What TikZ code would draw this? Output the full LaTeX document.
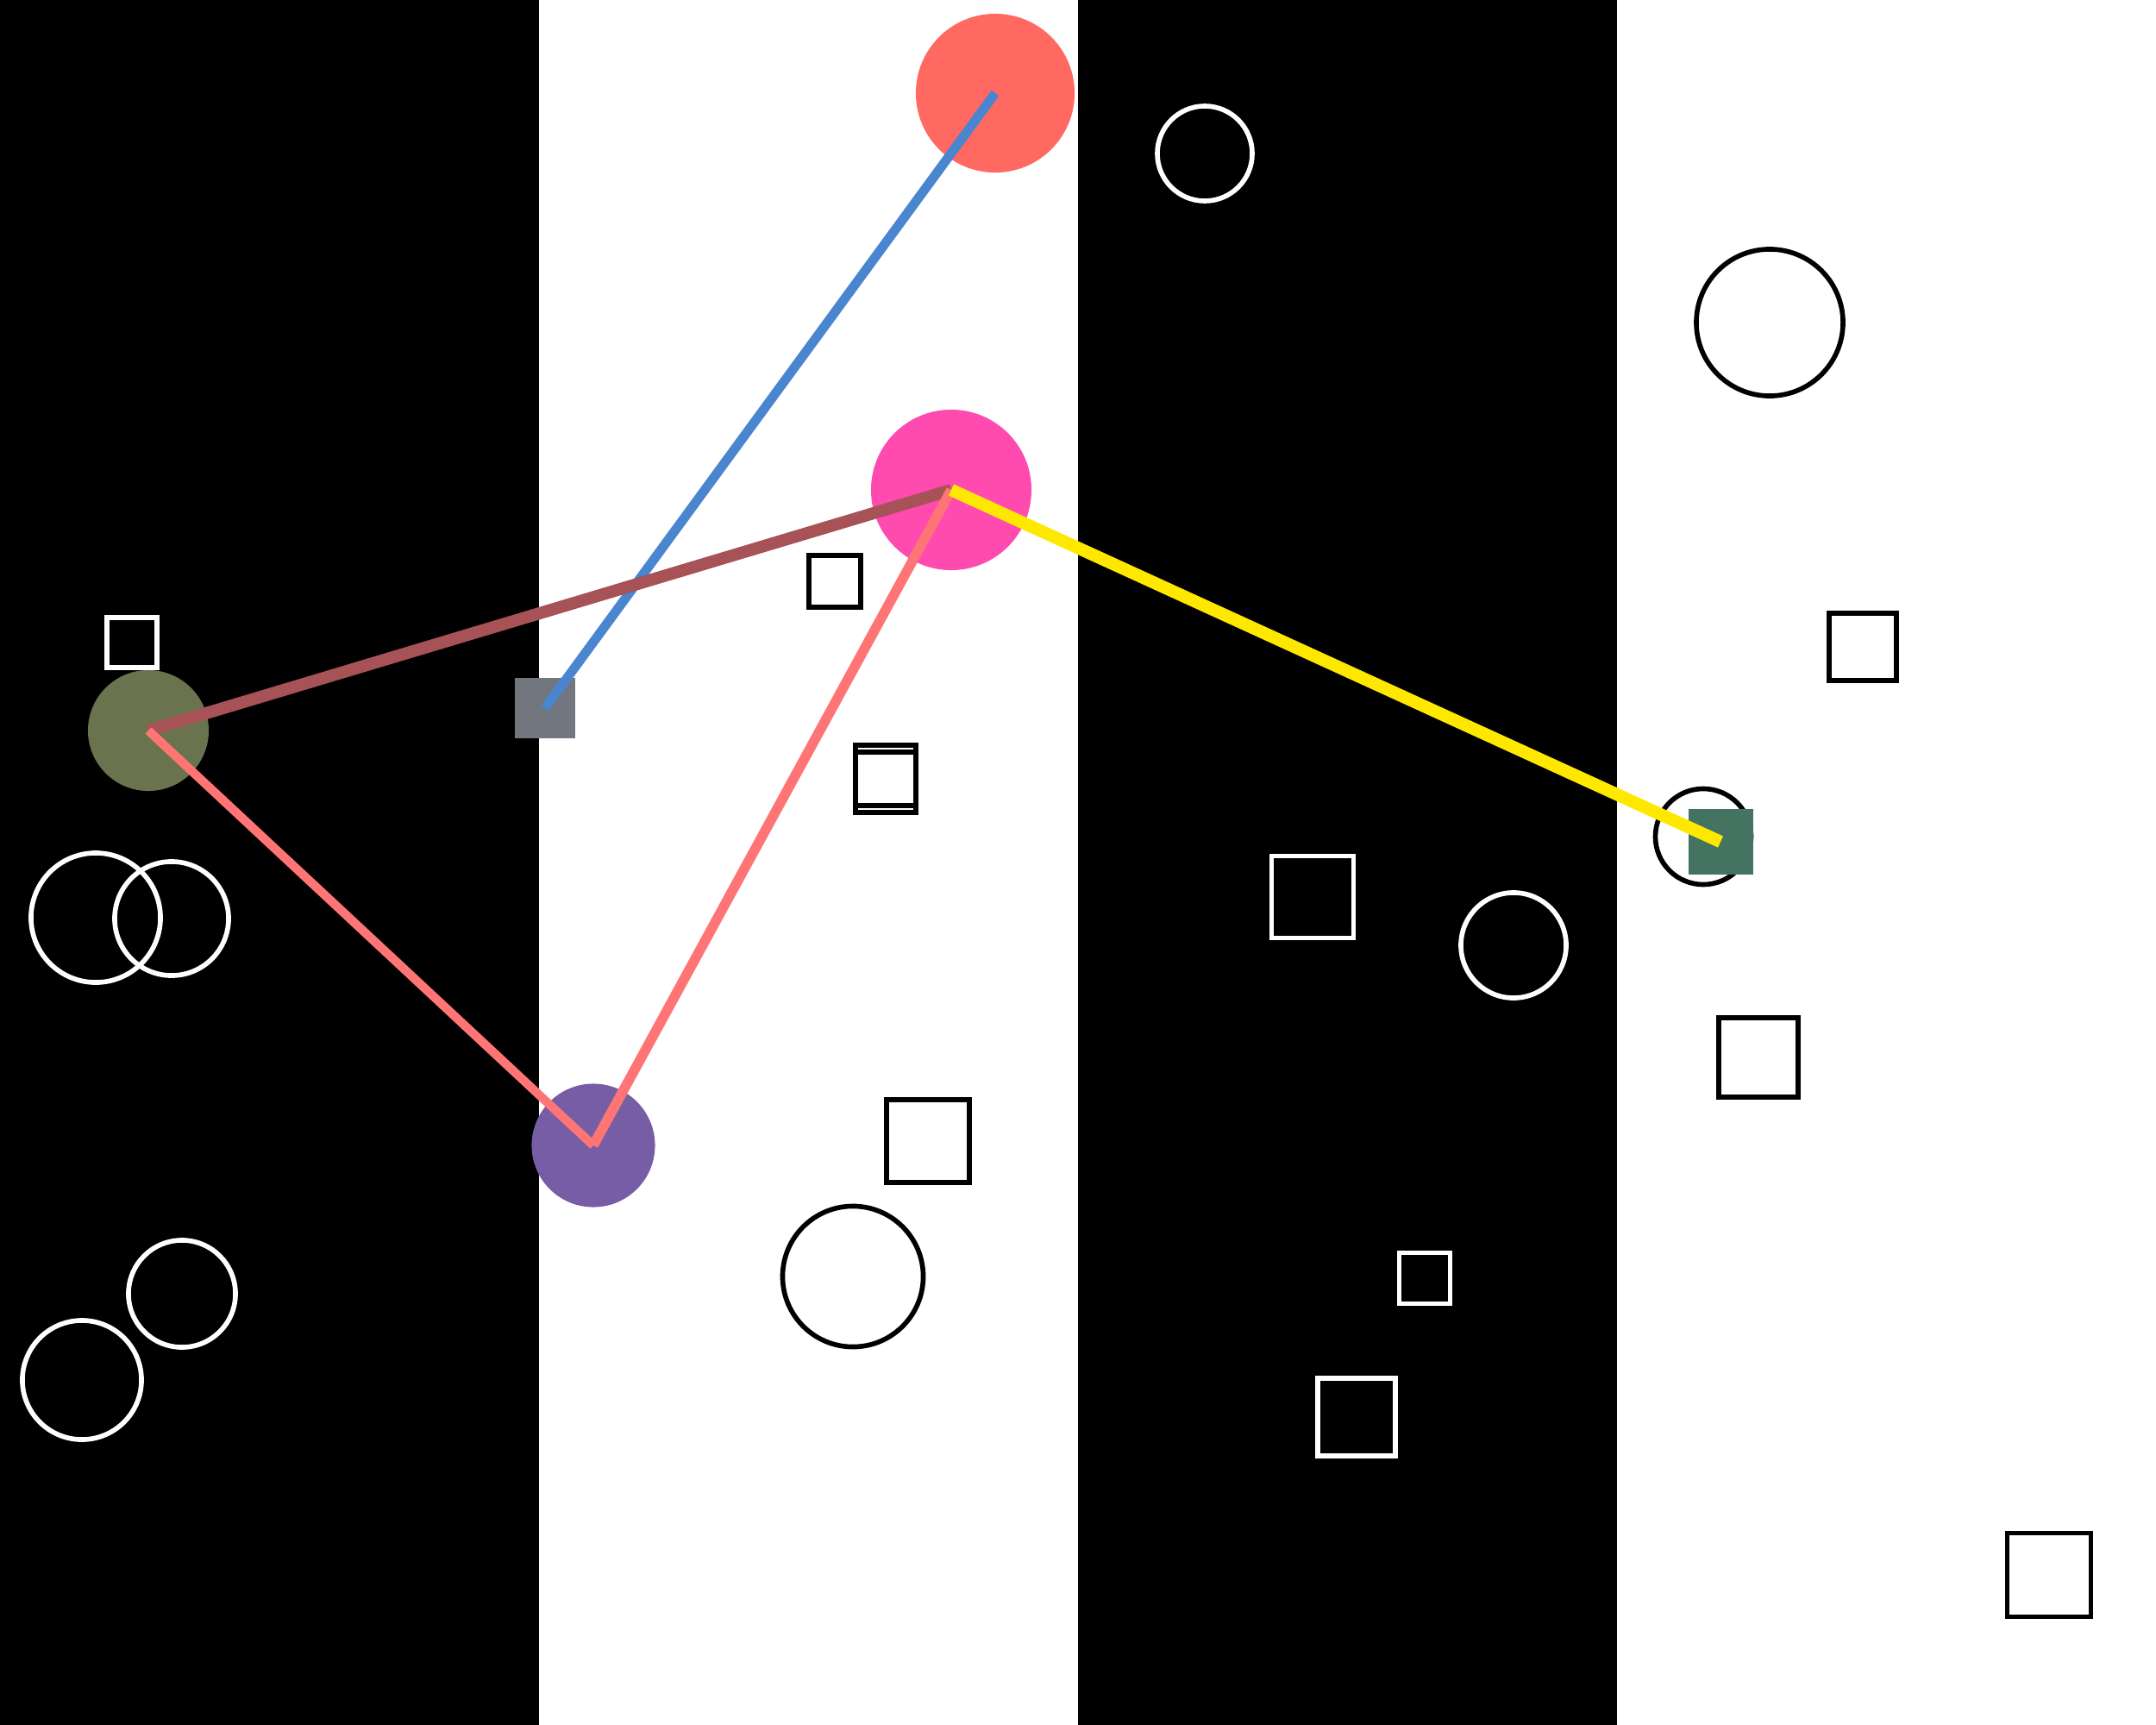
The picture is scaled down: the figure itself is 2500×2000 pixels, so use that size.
\documentclass[tikz,border=0pt]{standalone}
\definecolor{nodeCoral}{HTML}{FF6961}
\definecolor{nodePink}{HTML}{FF4AB0}
\definecolor{nodeOlive}{HTML}{69734D}
\definecolor{nodePurple}{HTML}{775DA6}
\definecolor{nodeGray}{HTML}{71767F}
\definecolor{nodeGreen}{HTML}{447361}
\definecolor{linkBlue}{HTML}{4A86CF}
\definecolor{linkBrown}{HTML}{A65257}
\definecolor{linkSalmon}{HTML}{FF7575}
\definecolor{linkYellow}{HTML}{FFE800}

\begin{document}
\begin{tikzpicture}[x=0.01cm, y=-0.01cm,
  every node/.style={inner sep=0pt, outer sep=0pt},
  ring/.style={circle, draw=#1, line width=1.6pt},
  box/.style={rectangle, draw=#1, line width=1.6pt},
  dot/.style={circle, fill=#1},
  tile/.style={rectangle, fill=#1},
  link/.style={line width=#1, line cap=butt}]
  \useasboundingbox (0,0) rectangle (2500,2000);
  \fill[white] (0,0) rectangle (2500,2000);
  \fill[black] (0,0) rectangle (625,2000);
  \fill[black] (1250,0) rectangle (1875,2000);

  \node[box=white, minimum size=0.58cm] (ls1) at (153,745) {};
  \node[ring=white, minimum size=1.50cm] (lc1) at (111,1064) {};
  \node[ring=white, minimum size=1.32cm] (lc2) at (199,1065) {};
  \node[ring=white, minimum size=1.24cm] (lc3) at (211,1500) {};
  \node[ring=white, minimum size=1.38cm] (lc4) at (95,1600) {};

  \node[box=black, minimum size=0.60cm] (ms1) at (968,674) {};
  \node[box=black, minimum size=0.70cm] (ms2) at (1027,899) {};
  \node[box=black, minimum size=0.70cm] (ms3) at (1027,907) {};
  \node[box=black, minimum size=0.96cm] (ms4) at (1076,1323) {};
  \node[ring=black, minimum size=1.63cm] (mc1) at (989,1480) {};

  \node[ring=white, minimum size=1.10cm] (rc1) at (1397,178) {};
  \node[box=white, minimum size=0.95cm] (rs1) at (1522,1040) {};
  \node[ring=white, minimum size=1.22cm] (rc2) at (1755,1096) {};
  \node[box=white, minimum size=0.59cm] (rs2) at (1652,1482) {};
  \node[box=white, minimum size=0.90cm] (rs3) at (1573,1643) {};

  \node[ring=black, minimum size=1.70cm] (fc1) at (2052,374) {};
  \node[box=black, minimum size=0.78cm] (fs1) at (2160,750) {};
  \node[ring=black, minimum size=1.11cm] (fc2) at (1975,970) {};
  \node[box=black, minimum size=0.92cm] (fs2) at (2039,1226) {};
  \node[box=black, minimum size=0.97cm] (fs3) at (2376,1826) {};

  \node[dot=nodeCoral, minimum size=1.84cm] (coral) at (1154,108) {};
  \node[dot=nodePink, minimum size=1.86cm] (pink) at (1103,568) {};
  \node[dot=nodeOlive, minimum size=1.40cm] (olive) at (172,847) {};
  \node[dot=nodePurple, minimum size=1.43cm] (purple) at (688,1328) {};
  \node[tile=nodeGray, minimum size=0.70cm] (gray) at (632,821) {};
  \node[tile=nodeGreen, minimum size=0.75cm] (green) at (1995,976) {};

  \draw[link=3.1pt, linkBlue] (gray.center) -- (coral.center);
  \draw[link=4pt, linkBrown] (olive.center) -- (pink.center);
  \draw[link=2.9pt, linkSalmon] (olive.center) -- (purple.center);
  \draw[link=3.3pt, linkSalmon] (purple.center) -- (pink.center);
  \draw[link=4.1pt, linkYellow] (pink.center) -- (green.center);
\end{tikzpicture}
\end{document}
